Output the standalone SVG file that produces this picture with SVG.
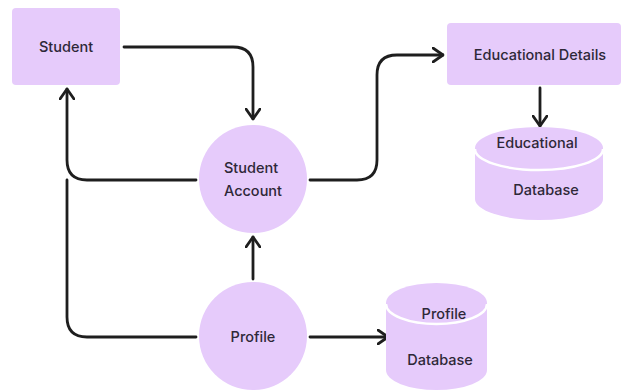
<svg xmlns="http://www.w3.org/2000/svg" width="623" height="392" viewBox="0 0 623 392">
<style>
.n{fill:#e6cbfb}
.t{font-family:Inter,"Liberation Sans",sans-serif;font-size:14.5px;font-weight:500;fill:#2e2838;text-anchor:middle}
.c{fill:none;stroke:#1e1e1e;stroke-width:2.8;stroke-linecap:round;stroke-linejoin:round}
.sep{fill:none;stroke:#ffffff;stroke-width:2.5}
</style>
<defs>
<marker id="ah" viewBox="0 0 12 16" refX="11" refY="8" markerWidth="12" markerHeight="16" markerUnits="userSpaceOnUse" orient="auto">
<path d="M1,1 L11,8 L1,15" fill="none" stroke="#1e1e1e" stroke-width="2.8" stroke-linecap="round" stroke-linejoin="round"/>
</marker>
</defs>
<rect width="623" height="392" fill="#ffffff"/>
<g id="connectors">
<path class="c" marker-end="url(#ah)" d="M124,47 H233 Q253,47 253,67 V119"/>
<path class="c" marker-end="url(#ah)" d="M196,180 H87 Q67,180 67,160 V89"/>
<path class="c" d="M196,337 H87 Q67,337 67,317 V180"/>
<path class="c" marker-end="url(#ah)" d="M253,279 V237"/>
<path class="c" marker-end="url(#ah)" d="M310,180 H357 Q377,180 377,160 V75 Q377,55 397,55 H443"/>
<path class="c" marker-end="url(#ah)" d="M540,88 V126"/>
<path class="c" marker-end="url(#ah)" d="M310,337 H388"/>
</g>
<g id="student">
<rect class="n" x="12" y="8" width="108" height="77" rx="4"/>
<text class="t" x="66" y="52">Student</text>
</g>
<g id="student-account">
<circle class="n" cx="253" cy="179" r="54"/>
<text class="t" x="251" y="173">Student</text>
<text class="t" x="253" y="196">Account</text>
</g>
<g id="profile">
<circle class="n" cx="253" cy="336" r="54"/>
<text class="t" x="253" y="342">Profile</text>
</g>
<g id="educational-details">
<rect class="n" x="447" y="23" width="174" height="62" rx="4"/>
<text class="t" x="540" y="60">Educational Details</text>
</g>
<g id="educational-database">
<path class="n" d="M475,148 V199 A64,21 0 0 0 603,199 V148 A64,21 0 0 0 475,148 Z"/>
<path class="sep" d="M475,149 A64,21 0 0 0 603,149"/>
<text class="t" x="537" y="148">Educational</text>
<text class="t" x="546" y="195">Database</text>
</g>
<g id="profile-database">
<path class="n" d="M386,303 V370 A50.5,20 0 0 0 487,370 V303 A50.5,20 0 0 0 386,303 Z"/>
<path class="sep" d="M386,304 A50.5,20 0 0 0 487,304"/>
<text class="t" x="444" y="319">Profile</text>
<text class="t" x="440" y="365">Database</text>
</g>
</svg>
